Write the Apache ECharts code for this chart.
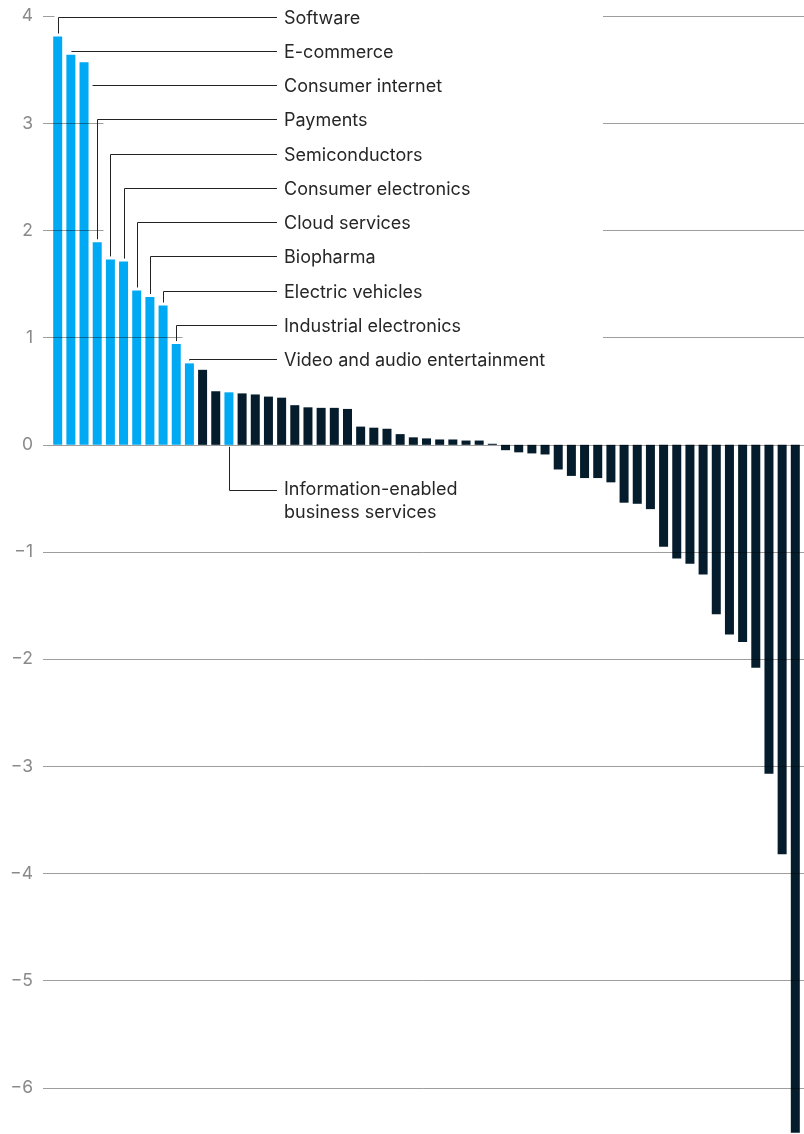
<!DOCTYPE html>
<html><head><meta charset="utf-8">
<script src="https://cdn.jsdelivr.net/npm/echarts@6/dist/echarts.min.js"></script>
<style>html,body{margin:0;padding:0;background:#fff;width:804px;height:1134px;overflow:hidden;position:relative}
#c{position:absolute;left:0;top:-91px;width:804px;height:1286px}</style>
</head><body><div id="c"></div>
<script>
// Bar values, sorted descending (57 industries)
const values = [3.81,3.64,3.57,1.89,1.73,1.71,1.44,1.38,1.30,0.94,0.76,
  0.70,0.50,0.49,0.48,0.47,0.45,0.44,0.37,0.35,0.345,0.345,0.335,0.17,0.16,0.15,0.10,0.07,0.06,0.05,0.05,0.04,0.04,0.01,
  -0.05,-0.07,-0.08,-0.09,-0.23,-0.29,-0.31,-0.31,-0.35,-0.54,-0.55,-0.60,-0.95,-1.06,-1.11,-1.21,-1.58,-1.77,-1.84,-2.08,-3.07,-3.82,-6.42];
// Labels for the highlighted bars at the top (bar index 0..10)
const topLabels = ["Software","E-commerce","Consumer internet","Payments","Semiconductors","Consumer electronics","Cloud services","Biopharma","Electric vehicles","Industrial electronics","Video and audio entertainment"];
const topLabelIdx = [0,1,2,3,4,5,6,7,8,9,10];
// Label below the axis
const lowerLabel = ["Information-enabled","business services"];
const lowerLabelIdx = 13;
const highlighted = [0,1,2,3,4,5,6,7,8,9,10,13];
const yTicks = [-7,-6,-5,-4,-3,-2,-1,0,1,2,3,4,5];

const BLUE = '#00A9F4', NAVY = '#051C2C';
const OFF = 91; // container offset (page y = chart y - OFF)
const FONT = 'Inter';
const chart = echarts.init(document.getElementById('c'), null, {renderer:'canvas'});
const fmt = v => (v < 0 ? '\u2212' + Math.abs(v) : String(v));
chart.setOption({
  animation:false,
  grid:{left:43, right:0, top:0, bottom:0},
  xAxis:{type:'value', min:-1.116, max:56.66, show:false},
  yAxis:{type:'value', min:yTicks[0], max:yTicks[yTicks.length-1], interval:1, z:3,
    axisLine:{show:false}, axisTick:{show:false},
    axisLabel:{margin:10, color:'#8a8a8a', fontSize:17.5, fontFamily:FONT, formatter:fmt,
      showMinLabel:false, showMaxLabel:false},
    splitLine:{lineStyle:{color:'rgba(0,0,0,0.38)', width:1}}},
  series:[{type:'bar', barWidth:9, z:2,
    data: values.map((v,i)=>({value:[i,v], itemStyle:{color: highlighted.includes(i)?BLUE:NAVY}}))}]
});

const px = (i,v) => chart.convertToPixel({gridIndex:0},[i,v]);
const y0 = px(0,0)[1];
const LABEL_Y0 = 16.5 + OFF, LABEL_DY = 34.28, LINE_END = 277, TEXT_X = 284, COVER_END = 603;
const g = [];
const txtStyle = {fill:'#262626', fontSize:18, fontFamily:FONT, textVerticalAlign:'middle', textAlign:'left'};
const verticals = [];
topLabelIdx.forEach((bi,k)=>{
  const ly = Math.round(LABEL_Y0 + LABEL_DY*k) + 0.5;
  const [cx, top] = px(bi, values[bi]);
  const x = Math.round(cx) + 0.5;
  let pts;
  if (top - 3 > ly) {
    pts = [[x, top-3],[x, ly],[LINE_END, ly]];
    verticals.push({x:x, y1:ly, y2:top-3});
  } else {
    pts = [[Math.round(cx+4.5+3)+0.5, ly],[LINE_END, ly]];
  }
  g.push({type:'polyline', z:6, shape:{points:pts}, style:{stroke:'#222', lineWidth:1, fill:null}});
  g.push({type:'text', z:6, style:Object.assign({x:TEXT_X, y:ly+1, text:topLabels[k]}, txtStyle)});
});
// lower label
{
  const [cx] = px(lowerLabelIdx, values[lowerLabelIdx]);
  const x = Math.round(cx)+0.5, ly = 490.5 + OFF;
  g.push({type:'polyline', z:6, shape:{points:[[x,y0+2],[x,ly],[LINE_END,ly]]}, style:{stroke:'#222', lineWidth:1, fill:null}});
  g.push({type:'text', z:6, style:Object.assign({x:TEXT_X, y:ly-1, text:lowerLabel[0]}, txtStyle)});
  g.push({type:'text', z:6, style:Object.assign({x:TEXT_X, y:ly+22, text:lowerLabel[1]}, txtStyle)});
}
// white covers for gridlines behind the label area
[1,2,3,4].forEach(v=>{
  const y = px(0,v)[1];
  let start = null;
  verticals.forEach(s=>{
    if (y >= s.y1-3 && y <= s.y2+1) {
      const st = Math.abs(y - s.y1) < 3 ? s.x - 4 : s.x + 6;
      if (start === null || st < start) start = st;
    }
  });
  if (start === null) return;
  g.push({type:'rect', z:5, shape:{x:start, y:y-2, width:COVER_END-start, height:4}, style:{fill:'#fff'}});
});
chart.setOption({graphic:{elements:g}});
</script>
</body></html>
